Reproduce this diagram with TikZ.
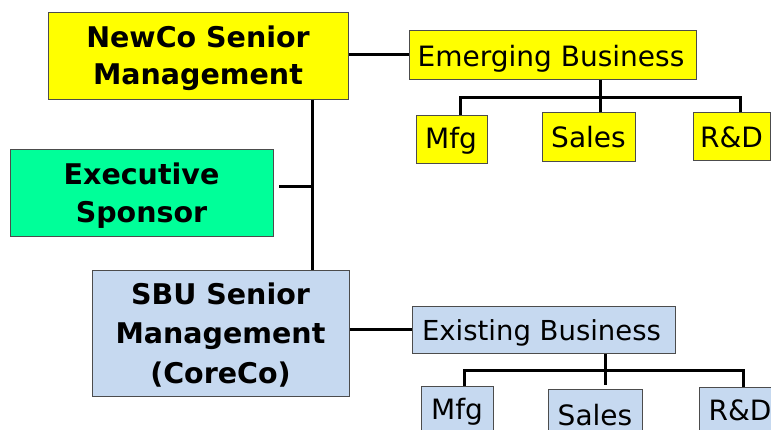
\documentclass[tikz,border=0pt]{standalone}
\usepackage{fontspec}
\setmainfont{DejaVu Sans}
\definecolor{yel}{HTML}{FFFF00}
\definecolor{grn}{HTML}{00FF99}
\definecolor{blu}{HTML}{C6D9F0}
\begin{document}
\begin{tikzpicture}[x=1pt,y=-1pt,
 box/.style={draw=black!70, line width=0.8pt, inner sep=0pt, anchor=north west},
 ln/.style={line width=3pt},
 bt/.style={anchor=base, inner sep=0pt, font=\fontsize{28.5}{38}\selectfont\bfseries},
 rt/.style={anchor=base, inner sep=0pt, font=\fontsize{28}{34}\selectfont}]
\clip (0,0) rectangle (771,430);
\fill[white] (0,0) rectangle (771,430);
% boxes
\node[box, fill=yel, minimum width=300pt, minimum height=87pt] (newco) at (48,12) {};
\node[box, fill=grn, minimum width=263pt, minimum height=87pt] (exec) at (10,149) {};
\node[box, fill=blu, minimum width=257pt, minimum height=126pt] (sbu) at (92,270) {};
\node[box, fill=yel, minimum width=287pt, minimum height=49pt] (emerg) at (409,30) {};
\node[box, fill=yel, minimum width=71pt, minimum height=48pt] (mfga) at (416,115) {};
\node[box, fill=yel, minimum width=93pt, minimum height=49pt] (salesa) at (542,112) {};
\node[box, fill=yel, minimum width=77pt, minimum height=48pt] (rda) at (693,112) {};
\node[box, fill=blu, minimum width=263pt, minimum height=47pt] (exist) at (412,306) {};
\node[box, fill=blu, minimum width=72pt, minimum height=60pt] (mfgb) at (421,386) {};
\node[box, fill=blu, minimum width=94pt, minimum height=60pt] (salesb) at (548,389) {};
\node[box, fill=blu, minimum width=100pt, minimum height=60pt] (rdb) at (699,387) {};
% texts
\node[bt] (t1) at (198,48) {NewCo Senior};
\node[bt] (t2) at (198,85) {Management};
\node[bt] (t3) at (141.5,185) {Executive};
\node[bt] (t4) at (141.5,223) {Sponsor};
\node[bt] (t5) at (220.5,305) {SBU Senior};
\node[bt] (t6) at (220.5,344) {Management};
\node[bt] (t7) at (220.5,383) {(CoreCo)};
\node[rt] (t8) at (551,66.5) {Emerging Business};
\node[rt] (t9) at (451,149) {Mfg};
\node[rt] (t10) at (588.5,148) {Sales};
\node[rt] (t11) at (731.5,148) {R\&D};
\node[rt, font=\fontsize{27.5}{34}\selectfont] (t12) at (541.5,340) {Existing Business};
\node[rt] (t13) at (457,419) {Mfg};
\node[rt] (t14) at (595,425) {Sales};
\node[rt] (t15) at (740,420) {R\&D};
% connector coordinates
\coordinate (trunk) at (312,0);
\coordinate (exl) at (279,187);
\coordinate (eL) at (460,98);
\coordinate (eM) at (600,98);
\coordinate (eR) at (740,98);
\coordinate (xL) at (464,370);
\coordinate (xM) at (605,370);
\coordinate (xR) at (743,370);
% connectors
\draw[ln] (newco.south -| trunk) -- (sbu.north -| trunk);
\draw[ln] (exl) -- (exl -| trunk);
\draw[ln] (newco.east |- emerg.west) -- (emerg.west);
\draw[ln] (sbu.east |- exist.west) -- (exist.west);
\draw[ln] (eL |- mfga.north) -- (eL) -- (eR) -- (eR |- rda.north);
\draw[ln] (emerg.south -| eM) -- (eM |- salesa.north);
\draw[ln] (xL |- mfgb.north) -- (xL) -- (xR) -- (xR |- rdb.north);
\draw[ln] (exist.south -| xM) -- ([yshift=4pt]xM |- salesb.north);
\end{tikzpicture}
\end{document}
